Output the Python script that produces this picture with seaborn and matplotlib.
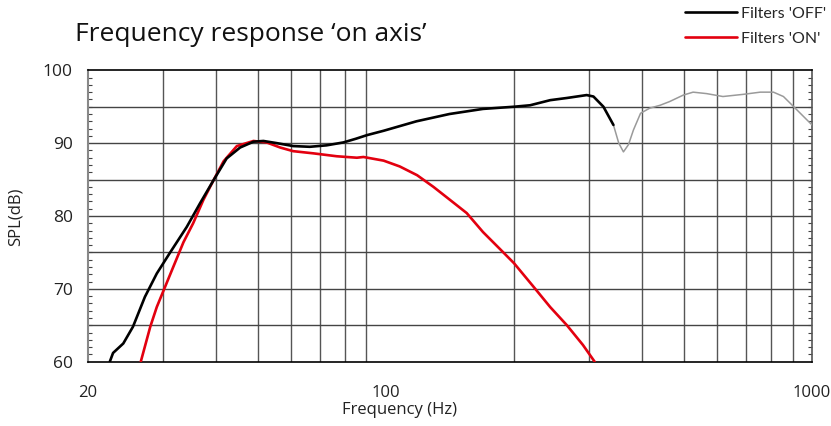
import matplotlib
matplotlib.use("Agg")
import matplotlib.pyplot as plt
import seaborn as sns
import pandas as pd
from matplotlib.ticker import FixedLocator, NullFormatter, NullLocator

# ---- data ----
off_freq = [22.5, 22.9, 24.2, 25.5, 27.2, 29.0, 31.1, 34.1, 36.6, 39.4, 42.3, 45.5, 48.9,
            51.6, 55.5, 60.6, 66.3, 72.6, 79.5, 85.0, 90.3, 98.8, 118, 141, 169, 200, 218,
            243, 266, 296, 307, 324, 342]
off_db = [60, 61.2, 62.5, 64.8, 68.9, 72.1, 74.9, 78.5, 81.7, 84.9, 87.9, 89.4, 90.2,
          90.3, 90.0, 89.6, 89.5, 89.7, 90.1, 90.6, 91.1, 91.7, 93.0, 94.0, 94.7, 95.0, 95.2,
          95.9, 96.2, 96.6, 96.4, 95.0, 92.5]

ext_freq = [342, 352, 361, 371, 381, 396, 416, 440, 463, 499, 526, 566, 618, 690, 756,
            812, 857, 906, 1000]
ext_db = [92.5, 90.0, 88.8, 89.8, 91.8, 94.1, 94.8, 95.2, 95.7, 96.6, 97.0, 96.8, 96.4,
          96.7, 97.0, 97.0, 96.4, 95.0, 92.5]

on_freq = [26.6, 28.0, 29.0, 30.1, 31.7, 33.5, 35.3, 37.3, 39.4, 41.6, 44.7, 48.9, 52.5,
           56.5, 60.6, 67.6, 76.7, 85.5, 88.6, 98.8, 107.8, 118.4, 129.3, 141.5, 154.8,
           169, 185, 200, 222, 243, 266, 290, 309]
on_db = [60, 64.8, 67.5, 69.8, 73.0, 76.4, 79.0, 82.2, 84.9, 87.5, 89.6, 90.3, 90.1,
         89.4, 88.9, 88.6, 88.2, 88.0, 88.1, 87.6, 86.8, 85.6, 84.0, 82.2, 80.4,
         77.8, 75.5, 73.5, 70.3, 67.5, 65.0, 62.3, 60.0]

x_ticks = [20, 100, 1000]
x_grid = [30, 40, 50, 60, 70, 80, 90, 200, 300, 400, 500, 600, 700, 800, 900]
y_ticks = [60, 70, 80, 90, 100]
y_grid = [65, 70, 75, 80, 85, 90, 95]

sns.set_style("white")
plt.rcParams['font.family'] = ['Open Sans', 'DejaVu Sans']

fig = plt.figure(figsize=(8.31, 4.26), dpi=100)
ax = fig.add_axes([88/831, 1-361.7/426, (812-88)/831, (361.7-70.3)/426])

df_off = pd.DataFrame({"f": off_freq, "db": off_db})
df_ext = pd.DataFrame({"f": ext_freq, "db": ext_db})
df_on = pd.DataFrame({"f": on_freq, "db": on_db})

ax.set_xscale("log")
ax.set_xlim(20, 1000)
ax.set_ylim(60, 100)

for g in x_grid:
    ax.axvline(g, color="#555555", lw=1.0, zorder=1)
for g in y_grid:
    ax.axhline(g, color="#444444", lw=1.0, zorder=1)

sns.lineplot(data=df_ext, x="f", y="db", ax=ax, color="#9a9a9a", lw=1.1,
             sort=False, estimator=None, zorder=3)
sns.lineplot(data=df_on, x="f", y="db", ax=ax, color="#e3000f", lw=1.9,
             sort=False, estimator=None, zorder=4, label="Filters 'ON'")
sns.lineplot(data=df_off, x="f", y="db", ax=ax, color="black", lw=1.9,
             sort=False, estimator=None, zorder=5, label="Filters 'OFF'")

ax.xaxis.set_major_locator(FixedLocator(x_ticks))
ax.xaxis.set_minor_locator(NullLocator())
ax.xaxis.set_minor_formatter(NullFormatter())
ax.set_xticklabels([str(v) for v in x_ticks])
ax.set_yticks(y_ticks)
ax.yaxis.set_minor_locator(FixedLocator(list(range(60, 101))))
ax.tick_params(axis="x", which="both", length=0, pad=17, labelsize=12, colors="#222222")
ax.tick_params(axis="y", which="major", length=0, pad=11, labelsize=12.5, colors="#222222")
ax.tick_params(axis="y", which="minor", length=3, direction="in", left=True, right=True,
               color="#444444", width=0.8)

for side in ["top", "bottom"]:
    ax.spines[side].set_color("black")
    ax.spines[side].set_linewidth(1.2)
ax.spines["left"].set_color("#888888")
ax.spines["left"].set_linewidth(1.5)
ax.spines["right"].set_color("#555555")
ax.spines["right"].set_linewidth(1.2)

ax.set_xlabel("")
ax.set_ylabel("")
fig.text(400/831, 1-410/426, "Frequency (Hz)", fontsize=12, color="#222222",
         ha="center", va="center")
fig.text(16/831, 1-217/426, "SPL(dB)", fontsize=12, color="#222222",
         ha="center", va="center", rotation=90)

fig.text(75/831, 1-41/426, "Frequency response \u2018on axis\u2019", fontsize=19,
         va="baseline", ha="left", color="#111111")

handles, labels = ax.get_legend_handles_labels()
order = [labels.index("Filters 'OFF'"), labels.index("Filters 'ON'")]
ax.legend([handles[i] for i in order], [labels[i] for i in order],
          loc="upper right", bbox_to_anchor=(833/831, 1.0), bbox_transform=fig.transFigure,
          frameon=False, handlelength=3.3, handletextpad=0.25,
          labelspacing=0.7, borderaxespad=0.0,
          prop={"family": "Lato", "size": 11.5})

fig.savefig("out.png", dpi=100)
